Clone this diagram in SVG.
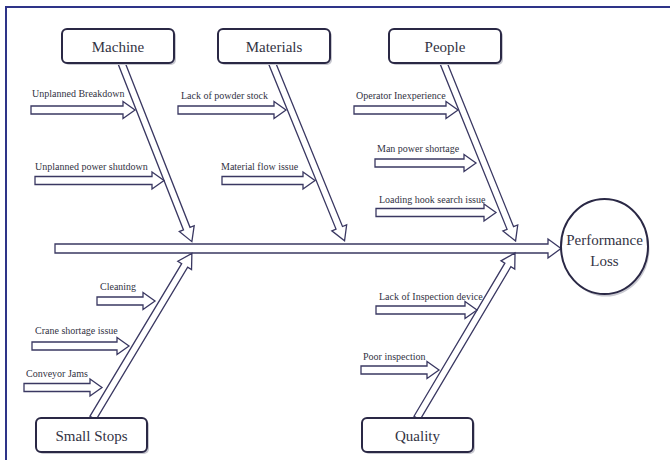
<svg xmlns="http://www.w3.org/2000/svg" width="670" height="460" viewBox="0 0 670 460">
<defs>
<style>
.frame{fill:none;stroke:#2e3488;stroke-width:2}
.box{fill:#fff;stroke:#2a2845;stroke-width:2}
.shadow{fill:#c8c8d0;stroke:none}
.arrow{fill:#fff;stroke:#3a3862;stroke-width:1.3;stroke-linejoin:miter}
.cat{font-family:"Liberation Serif","Times New Roman",serif;font-size:15px;fill:#333344;text-anchor:middle}
.cause{font-family:"Liberation Serif","Times New Roman",serif;font-size:10px;fill:#333344}
</style>
<path id="bone" d="M0,-3.5 H178 V-8 L192,0 L178,8 V3.5 H0 Z"/>
</defs>
<rect class="frame" x="6" y="7" width="700" height="500"/>
<g id="connectors">
<path id="spine" class="arrow" d="M55,244 H548 V239 L561,248.5 L548,258 V253 H55 Z"/>
<use class="arrow" href="#bone" transform="translate(121.5,63) rotate(68.5)"/>
<use class="arrow" href="#bone" transform="translate(272,63) rotate(67.8)"/>
<use class="arrow" href="#bone" transform="translate(443.5,63) rotate(67.95)"/>
<use class="arrow" href="#bone" transform="translate(93,418) rotate(-59)"/>
<use class="arrow" href="#bone" transform="translate(417,418) rotate(-59.3)"/>
<path class="arrow" d="M31,106 H123 V101.5 L135,110 L123,118.5 V114 H31 Z"/>
<path class="arrow" d="M35,176.5 H152 V172 L164,180.5 L152,189 V184.5 H35 Z"/>
<path class="arrow" d="M178,106 H274 V101.5 L286,110 L274,118.5 V114 H178 Z"/>
<path class="arrow" d="M222,176.5 H303 V172 L315,180.5 L303,189 V184.5 H222 Z"/>
<path class="arrow" d="M354,106 H446 V101.5 L458,110 L446,118.5 V114 H354 Z"/>
<path class="arrow" d="M375,159 H464 V154.5 L476,163 L464,171.5 V167 H375 Z"/>
<path class="arrow" d="M376,208.5 H484 V204 L496,212.5 L484,221 V216.5 H376 Z"/>
<path class="arrow" d="M97,297 H143 V292.5 L155,301 L143,309.5 V305 H97 Z"/>
<path class="arrow" d="M32,342 H117 V337.5 L129,346 L117,354.5 V350 H32 Z"/>
<path class="arrow" d="M24,383.5 H90 V379 L102,387.5 L90,396 V391.5 H24 Z"/>
<path class="arrow" d="M376,306 H465 V301.5 L477,310 L465,318.5 V314 H376 Z"/>
<path class="arrow" d="M361,366 H427 V361.5 L439,370 L427,378.5 V374 H361 Z"/>
</g>
<g id="causes">
<text class="cause" x="32" y="97">Unplanned Breakdown</text>
<text class="cause" x="35" y="170">Unplanned power shutdown</text>
<text class="cause" x="181" y="99">Lack of powder stock</text>
<text class="cause" x="221" y="170">Material flow issue</text>
<text class="cause" x="356" y="99">Operator Inexperience</text>
<text class="cause" x="377" y="152">Man power shortage</text>
<text class="cause" x="379" y="203">Loading hook search issue</text>
<text class="cause" x="100" y="290">Cleaning</text>
<text class="cause" x="35" y="334">Crane shortage issue</text>
<text class="cause" x="26" y="377">Conveyor Jams</text>
<text class="cause" x="379" y="300">Lack of Inspection device</text>
<text class="cause" x="363" y="360">Poor inspection</text>
</g>
<g id="machine">
<rect class="shadow" x="64" y="31" width="112" height="34" rx="5"/>
<rect class="box" x="62" y="29" width="112" height="34" rx="5"/>
<text class="cat" x="118" y="52">Machine</text>
</g>
<g id="materials">
<rect class="shadow" x="220" y="31" width="112" height="34" rx="5"/>
<rect class="box" x="218" y="29" width="112" height="34" rx="5"/>
<text class="cat" x="274" y="52">Materials</text>
</g>
<g id="people">
<rect class="shadow" x="391" y="31" width="112" height="34" rx="5"/>
<rect class="box" x="389" y="29" width="112" height="34" rx="5"/>
<text class="cat" x="445" y="52">People</text>
</g>
<g id="small-stops">
<rect class="shadow" x="38" y="420" width="111" height="34" rx="5"/>
<rect class="box" x="36" y="418" width="111" height="34" rx="5"/>
<text class="cat" x="91.5" y="441">Small Stops</text>
</g>
<g id="quality">
<rect class="shadow" x="364" y="420" width="111" height="34" rx="5"/>
<rect class="box" x="362" y="418" width="111" height="34" rx="5"/>
<text class="cat" x="417.5" y="441">Quality</text>
</g>
<g id="performance-loss">
<ellipse class="shadow" cx="606" cy="249" rx="43.5" ry="47.5"/>
<ellipse class="box" cx="604.5" cy="246.5" rx="43.5" ry="47.5"/>
<text class="cat" x="604.5" y="245">Performance</text>
<text class="cat" x="604.5" y="266">Loss</text>
</g>
</svg>
